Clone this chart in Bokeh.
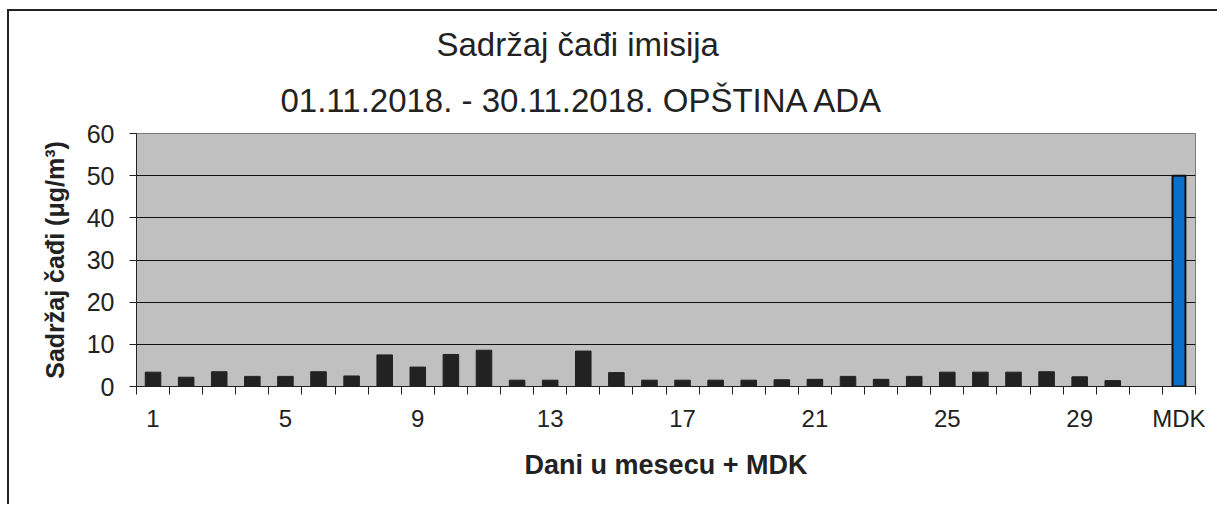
from bokeh.plotting import figure
from bokeh.models import FixedTicker, ColumnDataSource, Range1d, LinearAxis, Title
from bokeh.embed import file_html
from bokeh.resources import INLINE

days = list(range(1, 31))
values = [3.4, 2.2, 3.5, 2.4, 2.4, 3.5, 2.5, 7.5, 4.6, 7.6, 8.6, 1.5,
          1.5, 8.4, 3.3, 1.5, 1.5, 1.5, 1.5, 1.6, 1.7, 2.4, 1.7, 2.4,
          3.4, 3.4, 3.4, 3.5, 2.3, 1.4]
mdk_label = "MDK"
mdk_value = 50
tick_labels = [1, 5, 9, 13, 17, 21, 25, 29]
title1 = "Sadržaj čađi imisija"
title2 = "01.11.2018. - 30.11.2018. OPŠTINA ADA"
ylabel = "Sadržaj čađi (μg/m³)"
xlabel = "Dani u mesecu + MDK"

FONT = "Liberation Sans"
n_slots = len(days) + 2          # 30 days, one empty slot, MDK
mdk_pos = n_slots

p = figure(width=1210, height=495, output_backend="svg", toolbar_location=None,
           x_range=Range1d(0.5, n_slots + 0.5), y_range=Range1d(0, 60),
           min_border_left=127, min_border_right=24, min_border_top=122,
           min_border_bottom=120)
p.background_fill_color = "#c0c0c0"
p.border_fill_color = "white"
p.outline_line_color = "#7a7a7a"
p.styles = {"margin-left": "7px", "margin-top": "9px",
            "border-left": "2px solid #222", "border-top": "2px solid #222"}

src = ColumnDataSource(dict(x=days, top=values))
p.vbar(x="x", top="top", width=0.47, source=src, fill_color="#222222", line_color="#222222")
src2 = ColumnDataSource(dict(x=[mdk_pos], top=[mdk_value]))
p.vbar(x="x", top="top", width=0.39, source=src2, fill_color="#0a6fc9", line_color="#111111", line_width=2)

p.xgrid.visible = False
p.ygrid.grid_line_color = "#111111"
p.ygrid.grid_line_width = 1
p.ygrid.ticker = FixedTicker(ticks=[10, 20, 30, 40, 50])

p.yaxis.ticker = FixedTicker(ticks=[0, 10, 20, 30, 40, 50, 60])
p.yaxis.minor_tick_line_color = None
p.yaxis.major_tick_in = 0
p.yaxis.major_tick_out = 7
p.yaxis.major_tick_line_color = "#222"
p.yaxis.axis_line_color = "#222"
p.yaxis.major_label_text_font = FONT
p.yaxis.major_label_text_font_size = "25px"
p.yaxis.major_label_text_color = "#222"
p.yaxis.major_label_standoff = 15
p.yaxis.axis_label = ylabel
p.yaxis.axis_label_text_font = FONT
p.yaxis.axis_label_text_font_size = "25px"
p.yaxis.axis_label_text_font_style = "bold"
p.yaxis.axis_label_text_color = "#222"
p.yaxis.axis_label_standoff = 15

# axis with tick marks at slot boundaries
bounds = [i + 0.5 for i in range(0, n_slots + 1)]
p.xaxis.ticker = FixedTicker(ticks=bounds)
p.xaxis.major_label_overrides = {b: "" for b in bounds}
p.xaxis.major_label_text_font_size = "1px"
p.xaxis.major_label_standoff = 0
p.xaxis.minor_tick_line_color = None
p.xaxis.major_tick_in = 0
p.xaxis.major_tick_out = 8
p.xaxis.major_tick_line_color = "#222"
p.xaxis.axis_line_color = "#222"

# axis carrying the day labels and MDK
lab_axis = LinearAxis(ticker=FixedTicker(ticks=tick_labels + [mdk_pos]))
lab_axis.major_label_overrides = {mdk_pos: mdk_label}
lab_axis.axis_line_color = None
lab_axis.major_tick_line_color = None
lab_axis.minor_tick_line_color = None
lab_axis.major_label_text_font = FONT
lab_axis.major_label_text_font_size = "24px"
lab_axis.major_label_text_color = "#222"
lab_axis.major_label_standoff = 4
lab_axis.axis_label = xlabel
lab_axis.axis_label_text_font = FONT
lab_axis.axis_label_text_font_size = "27px"
lab_axis.axis_label_text_font_style = "bold"
lab_axis.axis_label_text_color = "#222"
lab_axis.axis_label_standoff = 15
p.add_layout(lab_axis, "below")

t2 = Title(text=title2, align="left", offset=144, text_font=FONT, text_font_size="33px",
           text_font_style="normal", text_color="#222", standoff=30)
t1 = Title(text=title1, align="left", offset=300, text_font=FONT, text_font_size="33px",
           text_font_style="normal", text_color="#222", standoff=4)
p.add_layout(t2, "above")
p.add_layout(t1, "above")

open("out.html", "w").write(file_html(p, INLINE))
